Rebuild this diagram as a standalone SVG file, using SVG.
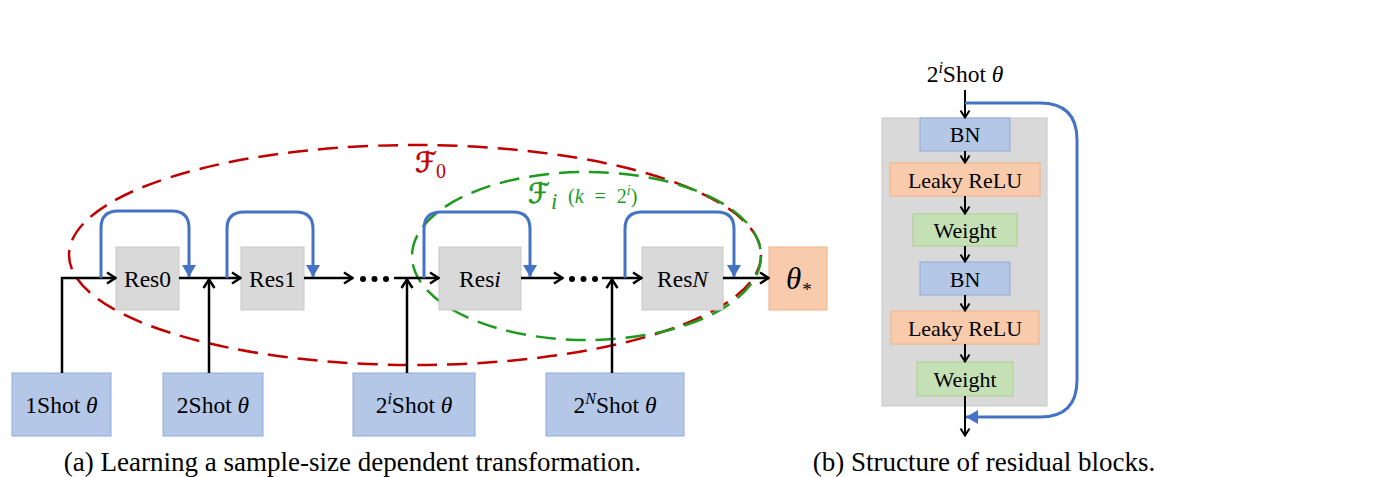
<svg xmlns="http://www.w3.org/2000/svg" width="1395" height="477" viewBox="0 0 1395 477">
<style>
.t{font-family:"Liberation Serif","Times New Roman",serif;fill:#000;}
.n{font-size:23.5px;text-anchor:middle;}
.r{font-size:22px;text-anchor:middle;}
.it{font-style:italic;}
.gray{fill:#D9D9D9;stroke:#C8C8C8;stroke-width:1;}
.blue{fill:#B4C7E7;stroke:#8FAADC;stroke-width:1;}
.orange{fill:#F8CBAD;stroke:#F4B183;stroke-width:1;}
.green{fill:#C5E0B4;stroke:#A9D18E;stroke-width:1;}
.ln{fill:none;stroke:#000;stroke-width:2.5;}
.ln2{fill:none;stroke:#000;stroke-width:2;}
.skip{fill:none;stroke:#4472C4;stroke-width:3;}
.cal{font-family:"DejaVu Serif","DejaVu Sans",serif;font-style:italic;stroke-width:0.7;}
</style>
<defs>
<marker id="ah" markerUnits="userSpaceOnUse" viewBox="0 0 12 14" refX="11" refY="7" markerWidth="12" markerHeight="14" orient="auto">
<path d="M2,1.5 L10.5,7 L2,12.5" fill="none" stroke="#000" stroke-width="2.5"/>
</marker>
<marker id="ahs" markerUnits="userSpaceOnUse" viewBox="0 0 10 12" refX="9.5" refY="6" markerWidth="10" markerHeight="12" orient="auto">
<path d="M2,1.5 L9,6 L2,10.5" fill="none" stroke="#000" stroke-width="2"/>
</marker>
<marker id="bh" markerUnits="userSpaceOnUse" viewBox="0 0 12 14" refX="12" refY="7" markerWidth="12" markerHeight="14" orient="auto">
<path d="M0,0 L12,7 L0,14 Z" fill="#4472C4"/>
</marker>
</defs>

<!-- ellipses -->
<g id="F0">
<ellipse cx="415" cy="255" rx="346" ry="110" fill="none" stroke="#C00000" stroke-width="2.5" stroke-dasharray="20 10"/>
<text class="cal" x="415" y="172" font-size="28" fill="#C00000" stroke="#C00000">ℱ</text>
<text x="436" y="178" font-family="Liberation Serif, serif" font-size="20" fill="#C00000">0</text>
</g>
<g id="Fi">
<ellipse cx="586.5" cy="256" rx="174.5" ry="84" fill="none" stroke="#1E9A1E" stroke-width="2.5" stroke-dasharray="20 10"/>
<text class="cal" x="528" y="203" font-size="28" fill="#1E9A1E" stroke="#1E9A1E">ℱ</text>
<text x="551" y="209" font-family="Liberation Serif, serif" font-style="italic" font-size="23" fill="#1E9A1E">i</text>
<text x="568" y="203" font-family="Liberation Serif, serif" font-size="20" fill="#1E9A1E" word-spacing="6">(<tspan font-style="italic">k</tspan> = 2<tspan font-style="italic" font-size="14" dy="-8">i</tspan><tspan dy="8">)</tspan></text>
</g>

<!-- nodes -->
<g id="res0"><rect class="gray" x="116" y="247" width="63" height="63"/><text class="t n" x="147.5" y="287">Res0</text></g>
<g id="res1"><rect class="gray" x="241" y="247" width="63" height="63"/><text class="t n" x="272.5" y="287">Res1</text></g>
<g id="resi"><rect class="gray" x="439" y="247" width="82" height="63"/><text class="t n" x="480" y="287">Res<tspan class="it">i</tspan></text></g>
<g id="resN"><rect class="gray" x="642" y="247" width="81" height="63"/><text class="t n" x="682.5" y="287">Res<tspan class="it">N</tspan></text></g>
<g id="theta"><rect class="orange" x="769" y="247" width="58" height="63"/><text class="t it" x="786" y="289" font-size="31">θ<tspan font-style="normal" font-size="19" dy="7" dx="1">*</tspan></text></g>

<g id="shot1"><rect class="blue" x="12" y="373" width="99" height="63"/><text class="t n" x="61.5" y="413">1Shot <tspan class="it">θ</tspan></text></g>
<g id="shot2"><rect class="blue" x="163" y="373" width="100" height="63"/><text class="t n" x="213" y="413">2Shot <tspan class="it">θ</tspan></text></g>
<g id="shoti"><rect class="blue" x="353" y="373" width="122" height="63"/><text class="t n" x="414" y="413">2<tspan class="it" font-size="16" dy="-9">i</tspan><tspan dy="9">Shot </tspan><tspan class="it">θ</tspan></text></g>
<g id="shotN"><rect class="blue" x="546" y="373" width="138" height="63"/><text class="t n" x="615" y="413">2<tspan class="it" font-size="16" dy="-9">N</tspan><tspan dy="9">Shot </tspan><tspan class="it">θ</tspan></text></g>

<!-- right panel -->
<g id="container"><rect class="gray" x="882" y="118" width="165" height="288" stroke="none"/></g>
<g id="inlabel"><text class="t n" x="965" y="82">2<tspan class="it" font-size="16" dy="-9">i</tspan><tspan dy="9">Shot </tspan><tspan class="it">θ</tspan></text></g>
<g id="bn1"><rect class="blue" x="920" y="118" width="90" height="33"/><text class="t r" x="965" y="142">BN</text></g>
<g id="lr1"><rect class="orange" x="890" y="163" width="150" height="33"/><text class="t r" x="965" y="188">Leaky ReLU</text></g>
<g id="w1"><rect class="green" x="913" y="214" width="104" height="32"/><text class="t r" x="965" y="238">Weight</text></g>
<g id="bn2"><rect class="blue" x="920" y="262" width="90" height="33"/><text class="t r" x="965" y="286.5">BN</text></g>
<g id="lr2"><rect class="orange" x="891" y="311" width="148" height="33"/><text class="t r" x="965" y="336">Leaky ReLU</text></g>
<g id="w2"><rect class="green" x="917" y="362" width="96" height="34"/><text class="t r" x="965" y="387">Weight</text></g>

<!-- connectors -->
<g id="connectors">
<path class="ln" d="M62,373 V278 H116" marker-end="url(#ah)"/>
<path class="ln" d="M179,278 H241" marker-end="url(#ah)"/>
<path class="ln" d="M209,373 V279" marker-end="url(#ah)"/>
<path class="ln" d="M304,278 H353" marker-end="url(#ah)"/>
<path class="ln" d="M394,278 H439" marker-end="url(#ah)"/>
<path class="ln" d="M407,373 V279" marker-end="url(#ah)"/>
<path class="ln" d="M521,278 H563" marker-end="url(#ah)"/>
<path class="ln" d="M602,278 H642" marker-end="url(#ah)"/>
<path class="ln" d="M612,373 V279" marker-end="url(#ah)"/>
<path class="ln" d="M723,278 H769" marker-end="url(#ah)"/>
<g fill="#000">
<circle cx="363" cy="279" r="3"/><circle cx="374.5" cy="279" r="3"/><circle cx="386" cy="279" r="3"/>
<circle cx="572" cy="279" r="3"/><circle cx="583.5" cy="279" r="3"/><circle cx="595" cy="279" r="3"/>
</g>
<path class="skip" d="M101,278 V228 Q101,211 118,211 H172 Q189,211 189,228 V277" marker-end="url(#bh)"/>
<path class="skip" d="M227,278 V229 Q227,212 244,212 H296 Q313,212 313,229 V277" marker-end="url(#bh)"/>
<path class="skip" d="M424,278 V229 Q424,212 441,212 H513 Q530,212 530,229 V277" marker-end="url(#bh)"/>
<path class="skip" d="M625,278 V229 Q625,212 642,212 H717 Q734,212 734,229 V277" marker-end="url(#bh)"/>

<path class="ln2" d="M965,90 V118" marker-end="url(#ahs)"/>
<path class="ln2" d="M965,151 V163" marker-end="url(#ahs)"/>
<path class="ln2" d="M965,196 V214" marker-end="url(#ahs)"/>
<path class="ln2" d="M965,246 V262" marker-end="url(#ahs)"/>
<path class="ln2" d="M965,295 V311" marker-end="url(#ahs)"/>
<path class="ln2" d="M965,344 V362" marker-end="url(#ahs)"/>
<path class="ln2" d="M965,396 V436" marker-end="url(#ahs)"/>
<path class="skip" d="M965,103 H1040 Q1077,103 1077,140 V380 Q1077,417 1040,417 H966" stroke-width="3.5" marker-end="url(#bh)"/>
</g>

<g id="captions">
<text class="t" x="352.5" y="471" font-size="27" text-anchor="middle">(a) Learning a sample-size dependent transformation.</text>
<text class="t" x="984" y="471" font-size="27" text-anchor="middle">(b) Structure of residual blocks.</text>
</g>
</svg>
